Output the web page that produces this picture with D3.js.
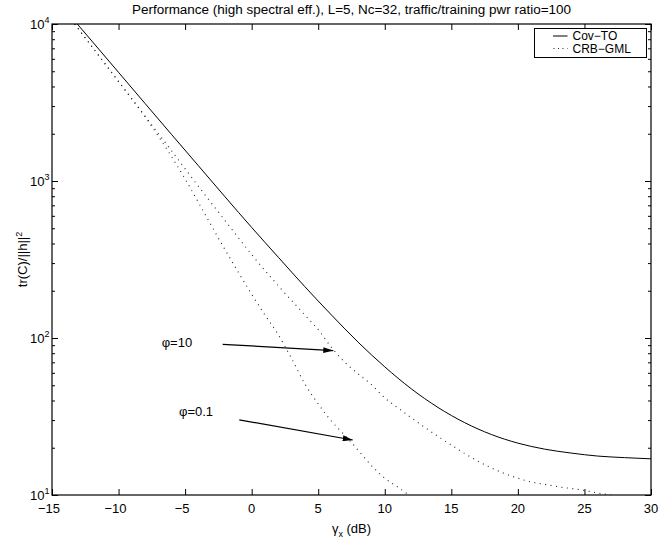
<!DOCTYPE html>
<html>
<head>
<meta charset="utf-8">
<script src="https://cdn.jsdelivr.net/npm/d3@7"></script>
<style>
  body { margin: 0; background: #fff; }
  svg text { font-family: "Liberation Sans", Arial, Helvetica, sans-serif; fill: #000; }
</style>
</head>
<body>
<svg id="chart" width="659" height="540"></svg>
<script>
// x values in dB, y values tr(C)/||h||^2
var covX = [-13.1, -12, -10, -8, -6, -4, -2, 0, 2, 4, 6, 8, 10, 12, 14, 16, 18, 20, 22, 24, 26, 28, 30];
var covY = [10000, 7780, 4920, 3110, 1970, 1250, 793, 506, 327, 212, 140, 94, 65.5, 47.4, 36.1, 28.9, 24.3, 21.4, 19.6, 18.5, 17.7, 17.3, 17.0];

var phi10X = [-13.3, -12, -10, -8, -6, -4, -2, 0, 2, 4, 5, 6, 7, 8, 9, 10, 11, 12, 13, 14, 15, 16, 17, 18, 19, 20, 21, 22, 23, 24, 25, 26, 27];
var phi10Y = [10000, 7170, 4300, 2580, 1550, 925, 560, 340, 215, 140, 113, 87, 70, 59, 50.5, 41.5, 35.8, 31.0, 27.0, 23.6, 20.8, 18.4, 16.4, 14.9, 13.7, 12.8, 12.1, 11.7, 11.3, 11.0, 10.7, 10.3, 10.0];

var phi01X = [-13.3, -12, -10, -8, -6, -5, -4, -3, -2, -1, 0, 1, 2, 3, 4, 5, 6, 7, 8, 9, 10, 11, 11.8];
var phi01Y = [10000, 7170, 4300, 2560, 1420, 1030, 730, 515, 365, 262, 190, 140, 105, 74, 51, 38, 29.5, 24, 19.3, 15.4, 12.8, 11.2, 10];

var xTicks = [-15, -10, -5, 0, 5, 10, 15, 20, 25, 30];
var yTicks = [10, 100, 1000, 10000];
var yTickExp = ["1", "2", "3", "4"];
var legendNames = ["Cov\u2212TO", "CRB\u2212GML"];

// annotations: [label, label x, label y, arrow from x, from y, to x, to y]
var notes = [
    ["\u03c6=10", -6.76, 87, -2.18, 91.2, 6.13, 83],
    ["\u03c6=0.1", -5.46, 31.9, -0.93, 30.1, 7.59, 22.4]
];

var margin = {left: 52, top: 24, right: 8, bottom: 45};
var W = 659, H = 540;
var w = W - margin.left - margin.right;
var h = H - margin.top - margin.bottom;
var FS = 13;

var svg = d3.select("#chart");
svg.append("rect").attr("width", W).attr("height", H).attr("fill", "#fff");

var g = svg.append("g").attr("transform", "translate(" + margin.left + "," + margin.top + ")");

var x = d3.scaleLinear().domain([-15, 30]).range([0, w]);
var y = d3.scaleLog().domain([10, 10000]).range([h, 0]);

g.append("clipPath").attr("id", "plotclip")
    .append("rect").attr("width", w).attr("height", h);

// minor log ticks
var yMinor = [];
[10, 100, 1000].forEach(function(d) {
    for (var k = 2; k <= 9; k++) yMinor.push(d * k);
});

function styleAxis(sel) {
    sel.select(".domain").remove();
    sel.selectAll("line").attr("stroke", "#000").attr("stroke-width", 1);
}

g.append("g").attr("transform", "translate(0," + h + ")")
    .call(d3.axisBottom(x).tickValues(xTicks).tickSize(-6).tickFormat(""))
    .call(styleAxis);
g.append("g")
    .call(d3.axisTop(x).tickValues(xTicks).tickSize(-6).tickFormat(""))
    .call(styleAxis);
g.append("g")
    .call(d3.axisLeft(y).tickValues(yTicks).tickSize(-6).tickFormat(""))
    .call(styleAxis);
g.append("g")
    .call(d3.axisLeft(y).tickValues(yMinor).tickSize(-3).tickFormat(""))
    .call(styleAxis);
g.append("g").attr("transform", "translate(" + w + ",0)")
    .call(d3.axisRight(y).tickValues(yTicks).tickSize(-6).tickFormat(""))
    .call(styleAxis);
g.append("g").attr("transform", "translate(" + w + ",0)")
    .call(d3.axisRight(y).tickValues(yMinor).tickSize(-3).tickFormat(""))
    .call(styleAxis);

// x tick labels
g.selectAll(".xlab").data(xTicks).enter().append("text")
    .attr("class", "xlab")
    .attr("x", function(d) { return x(d) + (d < 0 ? -3 : 0); })
    .attr("y", h + 17.5)
    .attr("text-anchor", "middle")
    .attr("font-size", FS)
    .text(function(d) { return d < 0 ? "\u2212" + Math.abs(d) : d; });

// y tick labels 10^n
var ylab = g.selectAll(".ylab").data(yTicks).enter().append("text")
    .attr("class", "ylab")
    .attr("x", -2.5)
    .attr("y", function(d) { return y(d) + 5; })
    .attr("text-anchor", "end")
    .attr("font-size", FS);
ylab.append("tspan").text("10");
ylab.append("tspan").attr("dy", -6).attr("font-size", 9)
    .text(function(d, i) { return yTickExp[i]; });

// curves
var line = d3.line()
    .x(function(d) { return x(d[0]); })
    .y(function(d) { return y(d[1]); })
    .curve(d3.curveMonotoneX);

var plot = g.append("g").attr("clip-path", "url(#plotclip)");

plot.append("path")
    .datum(d3.zip(covX, covY))
    .attr("d", line)
    .attr("fill", "none")
    .attr("stroke", "#000")
    .attr("stroke-width", 1);

[[phi10X, phi10Y], [phi01X, phi01Y]].forEach(function(s) {
    plot.append("path")
        .datum(d3.zip(s[0], s[1]))
        .attr("d", line)
        .attr("fill", "none")
        .attr("stroke", "#222")
        .attr("stroke-width", 1.1)
        .attr("stroke-dasharray", "1,4.5");
});

// box
g.append("rect").attr("width", w).attr("height", h)
    .attr("fill", "none").attr("stroke", "#000").attr("stroke-width", 1.2);

// annotations with arrows
svg.append("defs").append("marker")
    .attr("id", "arrowhead")
    .attr("viewBox", "0 0 10 6")
    .attr("refX", 10).attr("refY", 3)
    .attr("markerWidth", 10).attr("markerHeight", 6)
    .attr("markerUnits", "userSpaceOnUse")
    .attr("orient", "auto")
    .append("path").attr("d", "M0,0 L10,3 L0,6 Z").attr("fill", "#000");

notes.forEach(function(n) {
    g.append("text")
        .attr("x", x(n[1])).attr("y", y(n[2]))
        .attr("font-size", FS)
        .text(n[0]);
    g.append("line")
        .attr("x1", x(n[3])).attr("y1", y(n[4]))
        .attr("x2", x(n[5])).attr("y2", y(n[6]))
        .attr("stroke", "#000").attr("stroke-width", 1.2)
        .attr("marker-end", "url(#arrowhead)");
});

// legend
var lg = svg.append("g").attr("transform", "translate(534.5,28.5)");
lg.append("rect").attr("width", 112).attr("height", 29)
    .attr("fill", "#fff").attr("stroke", "#000").attr("stroke-width", 1);
lg.append("line").attr("x1", 18.5).attr("x2", 33).attr("y1", 7.5).attr("y2", 7.5)
    .attr("stroke", "#000").attr("stroke-width", 1);
lg.append("line").attr("x1", 19).attr("x2", 33).attr("y1", 20).attr("y2", 20)
    .attr("stroke", "#222").attr("stroke-width", 1.1).attr("stroke-dasharray", "1,3.5");
lg.selectAll(".lgt").data(legendNames).enter().append("text")
    .attr("x", 38).attr("y", function(d, i) { return 11.5 + i * 12.5; })
    .attr("font-size", 12)
    .text(function(d) { return d; });

// title and axis labels
svg.append("text")
    .attr("x", margin.left + w / 2).attr("y", 14)
    .attr("text-anchor", "middle").attr("font-size", 12.5)
    .attr("textLength", 439).attr("lengthAdjust", "spacingAndGlyphs")
    .text("Performance (high spectral eff.), L=5, Nc=32, traffic/training pwr ratio=100");

var xl = svg.append("text")
    .attr("x", margin.left + w / 2).attr("y", 533)
    .attr("text-anchor", "middle").attr("font-size", FS);
xl.append("tspan").text("\u03b3");
xl.append("tspan").attr("dy", 4).attr("font-size", 9).text("x");
xl.append("tspan").attr("dy", -4).text(" (dB)");

var yl = svg.append("text")
    .attr("transform", "translate(27," + (margin.top + h / 2) + ") rotate(-90)")
    .attr("text-anchor", "middle").attr("font-size", FS);
yl.append("tspan").text("tr(C)/||h||");
yl.append("tspan").attr("dy", -5).attr("font-size", 9).text("2");
</script>
</body>
</html>
